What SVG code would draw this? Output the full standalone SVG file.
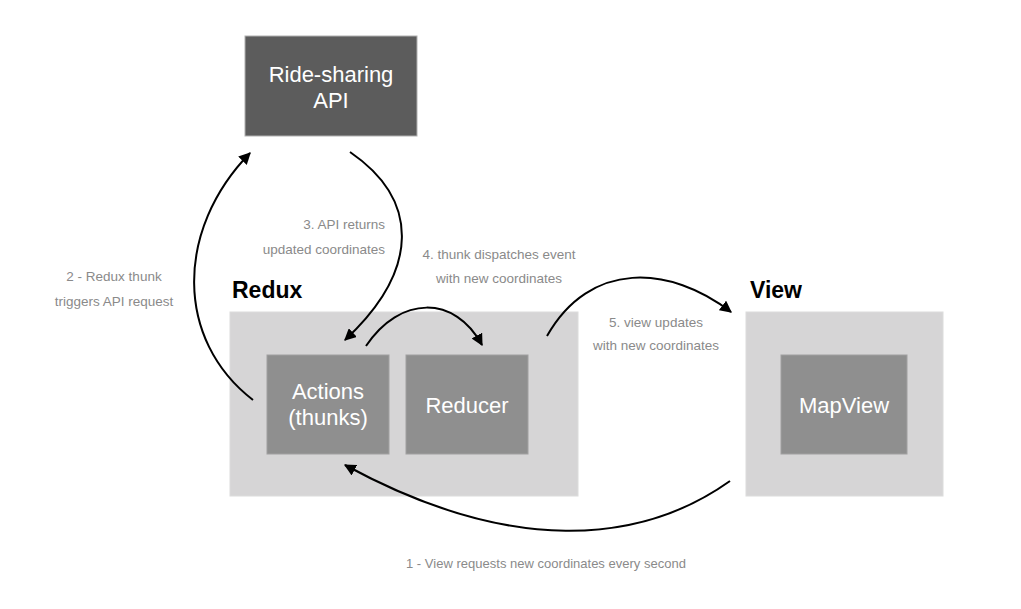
<svg xmlns="http://www.w3.org/2000/svg" width="1021" height="609" viewBox="0 0 1021 609">
<style>
.container{fill:#d6d5d6;stroke:#dcdcdc;stroke-width:1}
.inner{fill:#8f8f8f;stroke:#a0a0a0;stroke-width:1}
.api{fill:#5c5c5c;stroke:#b0b0b0;stroke-width:1}
.nt{font-family:"Liberation Sans",Arial,sans-serif;font-size:22px;fill:#ffffff;text-anchor:middle}
.title{font-family:"Liberation Sans",Arial,sans-serif;font-size:23px;font-weight:bold;fill:#000}
.lbl{font-family:"Liberation Sans Narrow","Liberation Sans",Arial,sans-serif;font-size:13.5px;fill:#8a8a8a}
.conn{fill:none;stroke:#000;stroke-width:2;marker-end:url(#ah)}
</style>
<defs>
<marker id="ah" viewBox="0 0 10 10" refX="9" refY="5" markerWidth="6" markerHeight="6" orient="auto" markerUnits="strokeWidth">
<path d="M0,0 L10,5 L0,10 z" fill="#000"/>
</marker>
</defs>
<rect width="1021" height="609" fill="#fff"/>
<g id="api">
<rect class="api" x="245" y="36" width="172" height="100"/>
<text class="nt" x="331" y="82">Ride-sharing</text>
<text class="nt" x="331" y="108">API</text>
</g>
<g id="redux">
<text class="title" x="232" y="298">Redux</text>
<rect class="container" x="230" y="312" width="348" height="184"/>
</g>
<g id="actions">
<rect class="inner" x="267" y="355" width="122" height="99"/>
<text class="nt" x="328" y="399">Actions</text>
<text class="nt" x="328" y="425">(thunks)</text>
</g>
<g id="reducer">
<rect class="inner" x="406" y="355" width="122" height="99"/>
<text class="nt" x="467" y="413">Reducer</text>
</g>
<g id="view">
<text class="title" x="750" y="298">View</text>
<rect class="container" x="746" y="312" width="197" height="184"/>
</g>
<g id="mapview">
<rect class="inner" x="781" y="355" width="126" height="99"/>
<text class="nt" x="844" y="413">MapView</text>
</g>
<g id="connectors">
<path class="conn" d="M730,481 C640,545 510,555 345,465"/>
<path class="conn" d="M253,400 C175,340 175,230 250,153"/>
<path class="conn" d="M350,152 C420,200 420,270 345,340"/>
<path class="conn" d="M366,346 C400,295 455,295 482,345"/>
<path class="conn" d="M547,336 C590,260 670,265 731,312"/>
</g>
<g id="labels">
<text class="lbl" x="114" y="281" text-anchor="middle">2 - Redux thunk</text>
<text class="lbl" x="114" y="306" text-anchor="middle">triggers API request</text>
<text class="lbl" x="385" y="229" text-anchor="end">3. API returns</text>
<text class="lbl" x="385" y="254" text-anchor="end">updated coordinates</text>
<text class="lbl" x="499" y="259" text-anchor="middle">4. thunk dispatches event</text>
<text class="lbl" x="499" y="283" text-anchor="middle">with new coordinates</text>
<text class="lbl" x="656" y="327" text-anchor="middle">5. view updates</text>
<text class="lbl" x="656" y="350" text-anchor="middle">with new coordinates</text>
<text class="lbl" x="546" y="568" text-anchor="middle" textLength="280" lengthAdjust="spacingAndGlyphs">1 - View requests new coordinates every second</text>
</g>
</svg>
